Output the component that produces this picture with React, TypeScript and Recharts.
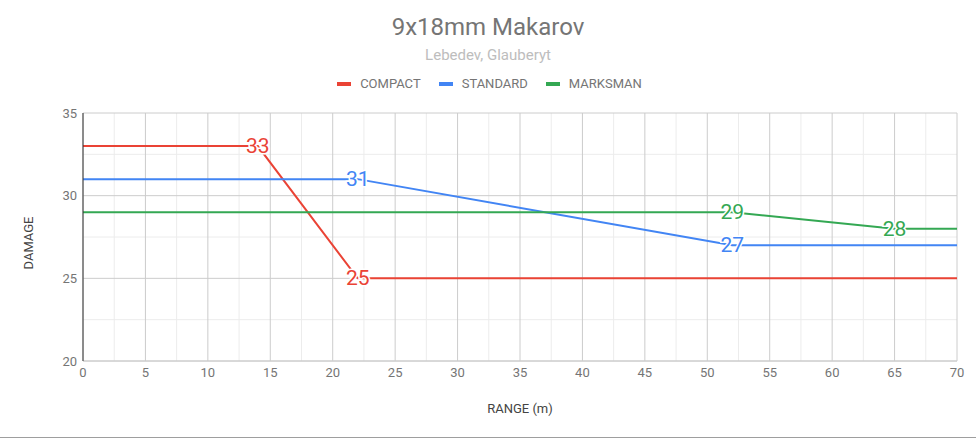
import React from "react";
import {
  LineChart,
  Line,
  XAxis,
  YAxis,
  CartesianGrid,
  Legend,
  LabelList,
} from "recharts";

const FONT = "Roboto, 'Noto Sans', sans-serif";

// series (range in m, damage)
const compactRange = [0, 14, 22, 70];
const compactDamage = [33, 33, 25, 25];
const compactTagged = [false, true, true, false];

const standardRange = [0, 22, 52, 70];
const standardDamage = [31, 31, 27, 27];
const standardTagged = [false, true, true, false];

const marksmanRange = [0, 52, 65, 70];
const marksmanDamage = [29, 29, 28, 28];
const marksmanTagged = [false, true, true, false];

const xTicks = [0, 5, 10, 15, 20, 25, 30, 35, 40, 45, 50, 55, 60, 65, 70];
const xMinor = [2.5, 7.5, 12.5, 17.5, 22.5, 27.5, 32.5, 37.5, 42.5, 47.5, 52.5, 57.5, 62.5, 67.5];
const yTicks = [20, 25, 30, 35];
const yMinor = [22.5, 27.5, 32.5];

const build = (range: number[], dmg: number[], tagged: boolean[]) =>
  range.map((r, i) => ({ range: r, damage: dmg[i], tag: tagged[i] ? dmg[i] : undefined }));

const series = [
  { name: "COMPACT", color: "#ea4335", data: build(compactRange, compactDamage, compactTagged) },
  { name: "STANDARD", color: "#4285f4", data: build(standardRange, standardDamage, standardTagged) },
  { name: "MARKSMAN", color: "#34a853", data: build(marksmanRange, marksmanDamage, marksmanTagged) },
];

const pointLabel = (color: string) => (props: any) => {
  const { x, y, value } = props;
  if (value === undefined || value === null) return null;
  return (
    <text
      x={x}
      y={y}
      textAnchor="middle"
      dominantBaseline="central"
      fontSize={21}
      fontFamily={FONT}
      fill={color}
      stroke="#ffffff"
      strokeWidth={3}
      paintOrder="stroke"
    >
      {value}
    </text>
  );
};

const LegendRow = () => (
  <div
    style={{
      display: "flex",
      justifyContent: "center",
      fontFamily: FONT,
      fontSize: 13,
      color: "#757575",
      gap: 18,
      paddingLeft: 3,
    }}
  >
    {series.map((s) => (
      <div key={s.name} style={{ display: "flex", alignItems: "center" }}>
        <span style={{ width: 14, height: 4, background: s.color, marginRight: 9 }} />
        <span>{s.name}</span>
      </div>
    ))}
  </div>
);

export default function App() {
  return (
    <div
      style={{
        position: "absolute",
        left: 0,
        top: 0,
        width: 976,
        height: 438,
        boxSizing: "border-box",
        borderBottom: "1px solid #9e9e9e",
        background: "#ffffff",
        fontFamily: FONT,
      }}
    >
      <div
        style={{
          position: "absolute",
          top: 13,
          width: 976,
          textAlign: "center",
          fontSize: 24,
          lineHeight: "28px",
          color: "#757575",
        }}
      >
        9x18mm Makarov
      </div>
      <div
        style={{
          position: "absolute",
          top: 46,
          width: 976,
          textAlign: "center",
          fontSize: 15,
          lineHeight: "18px",
          color: "#bdbdbd",
        }}
      >
        Lebedev, Glauberyt
      </div>
      <LineChart width={976} height={437} margin={{ top: 113, right: 19, bottom: 45, left: 0 }}>
        <CartesianGrid stroke="#ececec" verticalValues={xMinor} horizontalValues={yMinor} />
        <CartesianGrid stroke="#cccccc" verticalValues={xTicks} horizontalValues={yTicks} />
        <XAxis
          type="number"
          dataKey="range"
          domain={[0, 70]}
          ticks={xTicks}
          allowDataOverflow
          tickLine={false}
          tickSize={0}
          tickMargin={7}
          height={31}
          axisLine={{ stroke: "#cccccc" }}
          tick={{ fill: "#757575", fontSize: 13, fontFamily: FONT }}
          label={() => (
            <text x={520} y={408} textAnchor="middle" dominantBaseline="central" fontSize={13} fill="#444444" fontFamily={FONT}>
              RANGE (m)
            </text>
          )}
        />
        <YAxis
          type="number"
          domain={[20, 35]}
          ticks={yTicks}
          width={83}
          tickLine={false}
          tickSize={0}
          tickMargin={6}
          axisLine={{ stroke: "#333333" }}
          tick={{ fill: "#757575", fontSize: 13, fontFamily: FONT }}
          label={() => (
            <text
              x={28}
              y={243}
              transform="rotate(-90 28 243)"
              textAnchor="middle"
              dominantBaseline="central"
              fontSize={13}
              fill="#444444"
              fontFamily={FONT}
            >
              DAMAGE
            </text>
          )}
        />
        <Legend
          layout="horizontal"
          verticalAlign="middle"
          align="center"
          wrapperStyle={{ top: 76, left: 0, width: 976 }}
          content={() => <LegendRow />}
        />
        {series.map((s) => (
          <Line
            key={s.name}
            data={s.data}
            dataKey="damage"
            name={s.name}
            type="linear"
            stroke={s.color}
            strokeWidth={2}
            dot={false}
            activeDot={false}
            isAnimationActive={false}
          >
            <LabelList dataKey="tag" content={pointLabel(s.color)} />
          </Line>
        ))}
      </LineChart>
    </div>
  );
}
